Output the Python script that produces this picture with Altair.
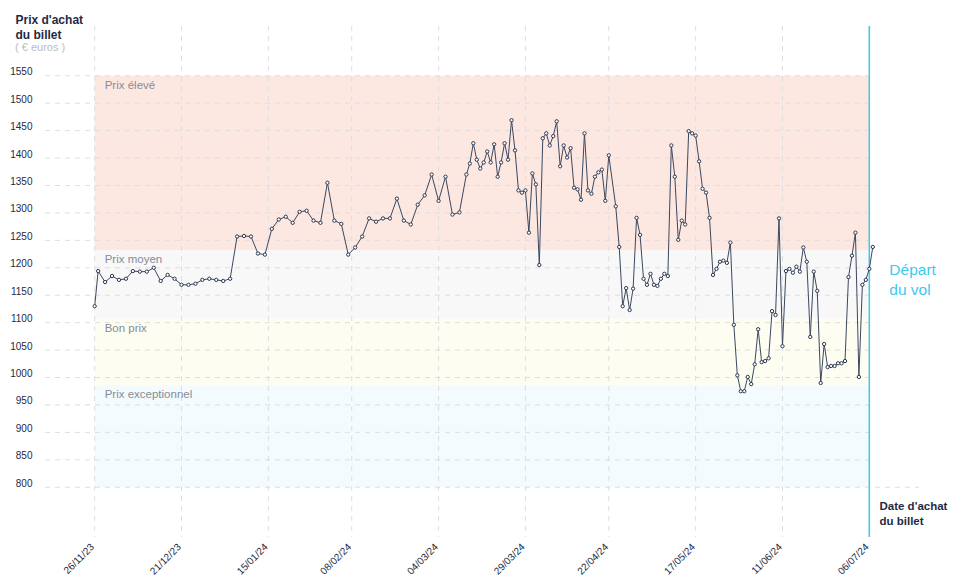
import altair as alt
import pandas as pd

# ---------------- data ----------------
dates = [
    "2023-11-26", "2023-11-27", "2023-11-29",
    "2023-12-01", "2023-12-03", "2023-12-05", "2023-12-07", "2023-12-09", "2023-12-11",
    "2023-12-13", "2023-12-15", "2023-12-17", "2023-12-19", "2023-12-21", "2023-12-23",
    "2023-12-25", "2023-12-27", "2023-12-29", "2023-12-31",
    "2024-01-02", "2024-01-04", "2024-01-06", "2024-01-08", "2024-01-10", "2024-01-12",
    "2024-01-14", "2024-01-16", "2024-01-18", "2024-01-20", "2024-01-22", "2024-01-24",
    "2024-01-26", "2024-01-28", "2024-01-30",
    "2024-02-01", "2024-02-03", "2024-02-05", "2024-02-07", "2024-02-09", "2024-02-11",
    "2024-02-13", "2024-02-15", "2024-02-17", "2024-02-19", "2024-02-21", "2024-02-23",
    "2024-02-25", "2024-02-27", "2024-02-29",
    "2024-03-02", "2024-03-04", "2024-03-06", "2024-03-08", "2024-03-10", "2024-03-12",
    "2024-03-13", "2024-03-14", "2024-03-15", "2024-03-16", "2024-03-17", "2024-03-18",
    "2024-03-19", "2024-03-20", "2024-03-21", "2024-03-22", "2024-03-23", "2024-03-24",
    "2024-03-25", "2024-03-26", "2024-03-27", "2024-03-28", "2024-03-29", "2024-03-30",
    "2024-03-31",
    "2024-04-01", "2024-04-02", "2024-04-03", "2024-04-04", "2024-04-05", "2024-04-06",
    "2024-04-07", "2024-04-08", "2024-04-09", "2024-04-10", "2024-04-11", "2024-04-12",
    "2024-04-13", "2024-04-14", "2024-04-15", "2024-04-16", "2024-04-17", "2024-04-18",
    "2024-04-19", "2024-04-20", "2024-04-21", "2024-04-22",
    "2024-04-24", "2024-04-25", "2024-04-26", "2024-04-27", "2024-04-28", "2024-04-29",
    "2024-04-30",
    "2024-05-01", "2024-05-02", "2024-05-03", "2024-05-04", "2024-05-05", "2024-05-06",
    "2024-05-07", "2024-05-08", "2024-05-09", "2024-05-10", "2024-05-11", "2024-05-12",
    "2024-05-13", "2024-05-14", "2024-05-15", "2024-05-16", "2024-05-17", "2024-05-18",
    "2024-05-19", "2024-05-20", "2024-05-21", "2024-05-22", "2024-05-23", "2024-05-24",
    "2024-05-25", "2024-05-26", "2024-05-27", "2024-05-28", "2024-05-29", "2024-05-30",
    "2024-05-31",
    "2024-06-01", "2024-06-02", "2024-06-03", "2024-06-04", "2024-06-05", "2024-06-06",
    "2024-06-07", "2024-06-08", "2024-06-09", "2024-06-10", "2024-06-11", "2024-06-12",
    "2024-06-13", "2024-06-14", "2024-06-15", "2024-06-16", "2024-06-17", "2024-06-18",
    "2024-06-19", "2024-06-20", "2024-06-21", "2024-06-22", "2024-06-23", "2024-06-24",
    "2024-06-25", "2024-06-26", "2024-06-27", "2024-06-28", "2024-06-29", "2024-06-30",
    "2024-07-01", "2024-07-02", "2024-07-03", "2024-07-04", "2024-07-05", "2024-07-06",
    "2024-07-07",
]

prices = [
    1130, 1194, 1174, 1185, 1178, 1180, 1194, 1193, 1193, 1200,
    1176, 1187, 1180, 1169, 1169, 1171, 1178, 1180, 1178, 1176,
    1180, 1257, 1258, 1257, 1226, 1224, 1271, 1288, 1293, 1282,
    1302, 1304, 1286, 1282, 1355, 1286, 1280, 1224, 1237, 1257,
    1290, 1284, 1290, 1290, 1326, 1286, 1279, 1315, 1332, 1370,
    1322, 1366, 1297, 1301, 1370, 1390, 1427, 1397, 1381, 1392,
    1412, 1392, 1425, 1366, 1392, 1427, 1397, 1469, 1414, 1341,
    1337, 1341, 1264, 1372, 1352, 1205, 1436, 1445, 1423, 1440,
    1467, 1385, 1423, 1401, 1418, 1346, 1343, 1324, 1445, 1341,
    1335, 1366, 1374, 1379, 1322, 1405, 1312, 1238, 1130, 1163,
    1123, 1162, 1291, 1260, 1180, 1169, 1189, 1169, 1167, 1180,
    1189, 1185, 1423, 1366, 1251, 1286, 1279, 1449, 1445, 1441,
    1394, 1344, 1337, 1291, 1187, 1198, 1211, 1213, 1209, 1246,
    1096, 1004, 975, 975, 1001, 988, 1024, 1088, 1028, 1030,
    1035, 1121, 1114, 1290, 1057, 1194, 1198, 1191, 1202, 1193,
    1237, 1211, 1074, 1193, 1158, 990, 1061, 1019, 1021, 1021,
    1026, 1026, 1030, 1183, 1222, 1264, 1001, 1169, 1178, 1198,
    1238,
]

band_names = ["Prix élevé", "Prix moyen", "Bon prix", "Prix exceptionnel"]
band_tops = [1550, 1232, 1107, 986]
band_bottoms = [1232, 1107, 986, 800]
band_colors = ["#fde7e1", "#f8f8f9", "#fdfdf2", "#f3fbfe"]

tick_dates = ["2023-11-26", "2023-12-21", "2024-01-15", "2024-02-08", "2024-03-04",
              "2024-03-29", "2024-04-22", "2024-05-17", "2024-06-11", "2024-07-06"]
y_ticks = list(range(800, 1551, 50))

first_date = "2023-11-26"
departure_date = "2024-07-06"
x_start = "2023-11-11T16:48:00Z"
x_end = "2024-07-20T07:12:00Z"
y_domain = [709.3, 1640.7]

# ---------------- styling ----------------
W, H = 874, 511
NAVY = "#1f2a44"
GRID = "#dedede"
CYAN = "#3fc8ee"
FONT = "Liberation Sans"


def dt(s, h=0, m=0):
    ts = pd.Timestamp(s)
    return alt.DateTime(year=ts.year, month=ts.month, date=ts.day,
                        hours=h, minutes=m, utc=True)


xscale = alt.Scale(type="utc", domain=[dt("2023-11-11", 16, 48), dt("2024-07-20", 7, 12)])
yscale = alt.Scale(domain=y_domain, nice=False, zero=False)

xaxis = alt.Axis(
    values=[dt(d) for d in tick_dates], format="%d/%m/%y",
    labelAngle=315, labelAlign="right", labelBaseline="middle",
    labelPadding=8, labelOffset=-2.5,
    labelFontSize=10, labelColor=NAVY, labelFont=FONT,
    ticks=False, domain=False, grid=False, labelOverlap=False,
    title=["Date d'achat", "du billet"], titleX=834, titleY=-37,
    titleAlign="left", titleBaseline="top", titleAngle=0,
    titleFontSize=11.5, titleFontWeight="bold", titleColor=NAVY, titleFont=FONT,
    titleLineHeight=15,
)
yaxis = alt.Axis(
    values=y_ticks, format="d", labelFontSize=10, labelColor=NAVY, labelFont=FONT,
    labelPadding=13, labelBaseline="alphabetic", labelOffset=-1,
    ticks=False, domain=False, grid=False,
    title=["Prix d'achat", "du billet"], titleX=-30, titleY=-12,
    titleAlign="left", titleBaseline="top", titleAngle=0,
    titleFontSize=12, titleFontWeight="bold", titleColor=NAVY, titleFont=FONT,
    titleLineHeight=15.5,
)

prices_df = pd.DataFrame({"date": dates, "price": prices})
bands_df = pd.DataFrame({"name": band_names, "top": band_tops, "bottom": band_bottoms,
                         "start": first_date, "end": departure_date})
ticks_df = pd.DataFrame({"date": tick_dates})
hgrid_df = pd.DataFrame({
    "value": y_ticks,
    "start": x_start,
    "end": [x_end if v == min(y_ticks) else departure_date for v in y_ticks],
})
dep_df = pd.DataFrame({"date": [departure_date], "label": ["Départ\ndu vol"]})
unit_df = pd.DataFrame({"label": ["( € euros )"]})


def X(field):
    return alt.X(field, scale=xscale, axis=xaxis)


def Y(field):
    return alt.Y(field, scale=yscale, axis=yaxis)


bands = alt.Chart(bands_df).mark_rect().encode(
    x=X("start:T"), x2="end:T",
    y=Y("top:Q"), y2="bottom:Q",
    color=alt.Color("name:N", scale=alt.Scale(domain=band_names, range=band_colors), legend=None),
)

band_labels = alt.Chart(bands_df).mark_text(
    align="left", baseline="middle", dx=10, dy=10, fontSize=11.5, color="#878c96", font=FONT
).encode(x=X("start:T"), y=Y("top:Q"), text="name:N")

hgrid = alt.Chart(hgrid_df).mark_rule(color=GRID, strokeDash=[5, 5], strokeWidth=1).encode(
    x=X("start:T"), x2="end:T", y=Y("value:Q"),
)

vgrid = alt.Chart(ticks_df).mark_rule(color=GRID, strokeDash=[5, 5], strokeWidth=1).encode(
    x=X("date:T"), y=alt.value(0), y2=alt.value(H),
)

dep_rule = alt.Chart(dep_df).mark_rule(color=CYAN, strokeWidth=1.5).encode(
    x=X("date:T"), y=alt.value(0), y2=alt.value(H),
)

dep_text = alt.Chart(dep_df).mark_text(
    align="left", baseline="top", dx=20, fontSize=15.5, color=CYAN, font=FONT,
    lineBreak="\n", lineHeight=20,
).encode(x=X("date:T"), y=alt.value(237), text="label:N")

unit_text = alt.Chart(unit_df).mark_text(
    align="left", baseline="middle", fontSize=11, color="#b8bcc2", font=FONT
).encode(x=alt.value(-30), y=alt.value(22), text="label:N")

line = alt.Chart(prices_df).mark_line(color="#3b4860", strokeWidth=1).encode(
    x=X("date:T"), y=Y("price:Q"),
)

points = alt.Chart(prices_df).mark_point(
    shape="circle", filled=True, fill="white", stroke="#2c3850", strokeWidth=1, size=11, opacity=1
).encode(x=X("date:T"), y=Y("price:Q"))

chart = alt.layer(
    bands, hgrid, vgrid, band_labels, dep_rule, dep_text, unit_text, line, points
).properties(
    width=W, height=H,
    autosize=alt.AutoSizeParams(type="none"),
    padding={"left": 37, "top": 18, "right": 31, "bottom": 40},
).configure(font=FONT).configure_view(strokeWidth=0)

chart.save("out.html", embed_options={"renderer": "svg", "actions": False})
